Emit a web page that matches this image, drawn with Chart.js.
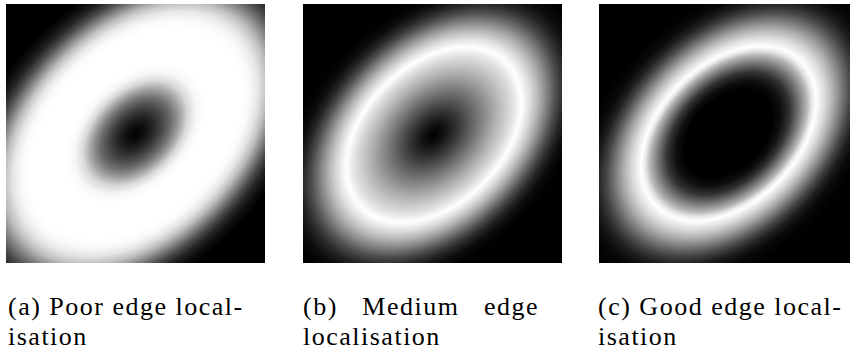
<!DOCTYPE html>
<html>
<head>
<meta charset="utf-8">
<script src="https://cdn.jsdelivr.net/npm/chart.js@4.4.1/dist/chart.umd.min.js"></script>
<style>
  body{margin:0;background:#fff;width:850px;height:354px;overflow:hidden;position:relative;color:#000}
  .panel{position:absolute;top:4px;width:259px;height:259px;overflow:hidden}
  .cap{position:absolute;top:292px;font-family:"Liberation Serif","DejaVu Serif",serif;font-size:26px;line-height:30px;letter-spacing:1.5px;white-space:nowrap}
  .just{display:flex;justify-content:space-between}
</style>
</head>
<body>
<div class="panel" style="left:6px"><canvas id="pa" width="259" height="259"></canvas></div>
<div class="panel" style="left:303px"><canvas id="pb" width="259" height="259"></canvas></div>
<div class="panel" style="left:599px"><canvas id="pc" width="259" height="259"></canvas></div>

<div class="cap" style="left:8px">(a) Poor edge local-<br>isation</div>
<div class="cap" style="left:303px;width:236px"><div class="just"><span>(b)</span><span>Medium</span><span>edge</span></div>localisation</div>
<div class="cap" style="left:598px">(c) Good edge local-<br>isation</div>

<script>
// ring geometry, in panel units (panel spans -1..1 both ways)
const centerX = [0, 0.01, 0];
const centerY = [0, -0.01, 0];
const semiMajor = 0.79;
const semiMinor = 0.535;
const tiltDeg = 45;

// brightness (0 black .. 1 white) against elliptic radius, ring sits at 1
const rhoStops = [0, 0.1, 0.2, 0.3, 0.4, 0.5, 0.6, 0.7, 0.8, 0.9, 0.95, 1.0, 1.05, 1.1, 1.2, 1.3, 1.4, 1.5, 1.6, 1.7, 1.8, 1.9, 2.0];
const poorProfile   = [0, 0.06, 0.15, 0.27, 0.42, 0.62, 0.85, 0.97, 1, 1, 1, 1, 1, 1, 1, 0.98, 0.9, 0.75, 0.52, 0.3, 0.14, 0.05, 0];
const mediumProfile = [0, 0.05, 0.14, 0.24, 0.35, 0.46, 0.57, 0.68, 0.78, 0.88, 0.94, 1.0, 0.94, 0.87, 0.7, 0.5, 0.3, 0.15, 0.05, 0.01, 0, 0, 0];
const goodProfile   = [0, 0, 0, 0, 0, 0, 0.06, 0.2, 0.45, 0.72, 0.9, 1.0, 0.93, 0.86, 0.68, 0.47, 0.27, 0.12, 0.04, 0.01, 0, 0, 0];

const grey = v => { const c = Math.round(v * 255); return `rgb(${c},${c},${c})`; };

// paints the ring as an elliptic radial gradient placed through the chart scales
const ringPlugin = {
  id: 'ring',
  beforeDatasetsDraw(chart, args, opts){
    const {ctx, chartArea: a, scales: {x, y}} = chart;
    const cx = x.getPixelForValue(opts.cx), cy = y.getPixelForValue(opts.cy);
    const rx = Math.abs(x.getPixelForValue(opts.cx + semiMajor) - cx);
    const ry = Math.abs(y.getPixelForValue(opts.cy + semiMinor) - cy);
    const rhoMax = rhoStops[rhoStops.length - 1];
    ctx.save();
    ctx.beginPath(); ctx.rect(a.left, a.top, a.width, a.height); ctx.clip();
    ctx.fillStyle = '#000';
    ctx.fillRect(a.left, a.top, a.width, a.height);
    ctx.translate(cx, cy);
    ctx.rotate(-tiltDeg * Math.PI / 180);
    ctx.scale(1, ry / rx);
    const R = rx * rhoMax;
    const g = ctx.createRadialGradient(0, 0, 0, 0, 0, R);
    rhoStops.forEach((r, i) => g.addColorStop(r / rhoMax, grey(opts.profile[i])));
    ctx.fillStyle = g;
    ctx.fillRect(-R, -R, 2 * R, 2 * R);
    ctx.restore();
  }
};

function makePanel(id, i, profile){
  new Chart(document.getElementById(id), {
    type: 'scatter',
    data: {datasets: [{data: [{x: centerX[i], y: centerY[i]}], pointRadius: 0}]},
    options: {
      responsive: false, animation: false, devicePixelRatio: 1,
      layout: {padding: 0},
      scales: {
        x: {display: false, min: -1, max: 1},
        y: {display: false, min: -1, max: 1}
      },
      plugins: {legend: {display: false}, tooltip: {enabled: false},
        ring: {cx: centerX[i], cy: centerY[i], profile}}
    },
    plugins: [ringPlugin]
  });
}

makePanel('pa', 0, poorProfile);
makePanel('pb', 1, mediumProfile);
makePanel('pc', 2, goodProfile);
</script>
</body>
</html>
